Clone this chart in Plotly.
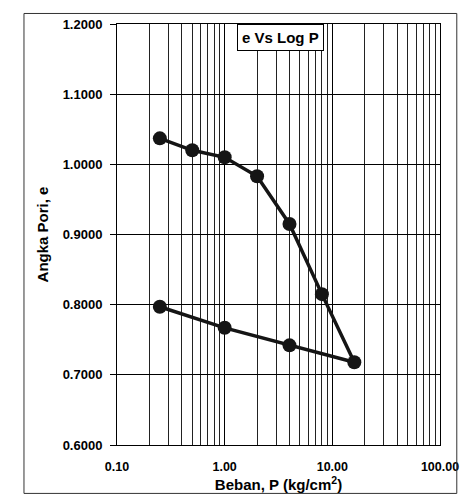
import plotly.graph_objects as go

# Data
beban_p = [0.25, 0.5, 1.0, 2.0, 4.0, 8.0, 16.0, 4.0, 1.0, 0.25]
angka_pori = [1.037, 1.020, 1.010, 0.983, 0.915, 0.815, 0.718, 0.742, 0.767, 0.797]
x_tick_vals = [0.1, 1, 10, 100]
x_tick_text = ["0.10", "1.00", "10.00", "100.00"]
y_tick_vals = [0.6, 0.7, 0.8, 0.9, 1.0, 1.1, 1.2]
y_tick_text = ["0.6000", "0.7000", "0.8000", "0.9000", "1.0000", "1.1000", "1.2000"]

FONT = "Liberation Sans, Arial, sans-serif"

fig = go.Figure()
fig.add_trace(go.Scatter(
    x=beban_p, y=angka_pori, mode="lines+markers",
    line=dict(color="#151515", width=3.5),
    marker=dict(color="#151515", size=14),
    showlegend=False,
))

# page body has an 8px margin, so the figure is drawn 8px smaller
fig.update_layout(
    width=460, height=492,
    margin=dict(l=109, r=25, t=9, b=55),
    paper_bgcolor="white", plot_bgcolor="white",
    font=dict(family=FONT, color="black"),
    xaxis=dict(
        type="log", range=[-1, 2],
        tickvals=x_tick_vals, ticktext=x_tick_text,
        tickfont=dict(size=12.5, family=FONT, weight="bold"),
        showgrid=True, gridcolor="black", gridwidth=1,
        minor=dict(dtick="D1", showgrid=True, gridcolor="#222", gridwidth=1, ticks=""),
        showline=True, linecolor="black", linewidth=1, mirror=True,
        ticks="", ticklen=0, ticklabelstandoff=10,
        title=dict(text="Beban, P (kg/cm<sup>2</sup>)", font=dict(size=15, family=FONT, weight="bold"), standoff=0),
        zeroline=False,
    ),
    yaxis=dict(
        range=[0.6, 1.2],
        tickvals=y_tick_vals, ticktext=y_tick_text,
        tickfont=dict(size=13, family=FONT, weight="bold"),
        showgrid=True, gridcolor="black", gridwidth=1,
        showline=True, linecolor="black", linewidth=1, mirror=True,
        ticks="outside", ticklen=6, tickcolor="black", ticklabelstandoff=5,
        title=dict(text="Angka Pori, e", font=dict(size=15, family=FONT, weight="bold"), standoff=10),
        zeroline=False,
    ),
)

fig.add_annotation(
    text="e Vs Log P", xref="paper", yref="paper", x=0.505, y=1.0,
    xanchor="center", yanchor="top", showarrow=False,
    font=dict(size=15, family=FONT, weight="bold", color="black"),
    bgcolor="white", bordercolor="black", borderwidth=1, borderpad=4,
)

# Outer chart frame
fig.add_shape(type="rect", xref="paper", yref="paper",
              x0=-0.288, x1=1.052, y0=-0.115, y1=1.025,
              line=dict(color="#333", width=1))

fig.write_html("out.html")
